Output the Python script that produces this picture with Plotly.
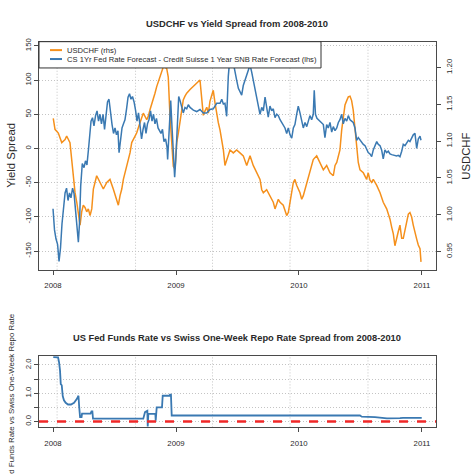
import plotly.graph_objects as go

# ---------------- data ----------------
usdchf_t = [2008.002, 2008.016, 2008.043, 2008.071, 2008.098, 2008.111, 2008.138, 2008.152, 2008.165, 2008.179,
            2008.193, 2008.206, 2008.220, 2008.233, 2008.246, 2008.260, 2008.274, 2008.287, 2008.301, 2008.315,
            2008.328, 2008.355, 2008.382, 2008.409, 2008.437, 2008.463, 2008.490, 2008.518, 2008.531, 2008.545,
            2008.559, 2008.572, 2008.599, 2008.626, 2008.640, 2008.653, 2008.680, 2008.707, 2008.734, 2008.762,
            2008.775, 2008.789, 2008.815, 2008.829, 2008.843, 2008.870, 2008.897, 2008.924, 2008.937, 2008.951,
            2008.965, 2008.978, 2008.992, 2009.006, 2009.019, 2009.033, 2009.046, 2009.059, 2009.073, 2009.087,
            2009.114, 2009.141, 2009.168, 2009.195, 2009.209, 2009.222, 2009.236, 2009.250, 2009.263, 2009.276,
            2009.290, 2009.303, 2009.317, 2009.331, 2009.344, 2009.358, 2009.372, 2009.385, 2009.398, 2009.412,
            2009.425, 2009.439, 2009.466, 2009.493, 2009.520, 2009.547, 2009.575, 2009.602, 2009.628, 2009.656,
            2009.683, 2009.697, 2009.710, 2009.737, 2009.764, 2009.791, 2009.805, 2009.832, 2009.846, 2009.872,
            2009.900, 2009.913, 2009.927, 2009.941, 2009.954, 2009.967, 2009.981, 2010.008, 2010.022, 2010.035,
            2010.063, 2010.089, 2010.116, 2010.144, 2010.171, 2010.198, 2010.225, 2010.252, 2010.279, 2010.293,
            2010.307, 2010.320, 2010.333, 2010.347, 2010.360, 2010.374, 2010.388, 2010.401, 2010.415, 2010.428,
            2010.441, 2010.455, 2010.469, 2010.482, 2010.496, 2010.523, 2010.550, 2010.563, 2010.577, 2010.591,
            2010.604, 2010.632, 2010.659, 2010.685, 2010.713, 2010.740, 2010.754, 2010.767, 2010.780, 2010.794,
            2010.807, 2010.821, 2010.835, 2010.848, 2010.862, 2010.876, 2010.889, 2010.902, 2010.916, 2010.929,
            2010.943, 2010.957, 2010.970, 2010.984, 2010.992]
usdchf_v = [1.131, 1.116, 1.111, 1.098, 1.102, 1.107, 1.098, 1.075, 1.053, 1.030,
            1.017, 0.999, 0.986, 1.004, 1.013, 1.010, 1.004, 1.008, 0.999, 1.008,
            1.035, 1.053, 1.044, 1.035, 1.044, 1.048, 1.035, 1.021, 1.013, 1.026,
            1.035, 1.048, 1.066, 1.084, 1.098, 1.102, 1.111, 1.125, 1.138, 1.129,
            1.134, 1.143, 1.156, 1.165, 1.174, 1.187, 1.201, 1.199, 1.187, 1.134,
            1.098, 1.066, 1.062, 1.098, 1.111, 1.129, 1.143, 1.156, 1.161, 1.165,
            1.170, 1.174, 1.178, 1.183, 1.158, 1.135, 1.141, 1.146, 1.138, 1.154,
            1.162, 1.169, 1.152, 1.134, 1.125, 1.115, 1.100, 1.088, 1.067, 1.075,
            1.082, 1.088, 1.084, 1.088, 1.084, 1.080, 1.067, 1.080, 1.067, 1.057,
            1.048, 1.034, 1.030, 1.034, 1.026, 1.017, 1.008, 1.021, 1.017, 1.013,
            0.999, 1.003, 1.017, 1.034, 1.044, 1.048, 1.040, 1.030, 1.021, 1.026,
            1.044, 1.061, 1.075, 1.080, 1.071, 1.061, 1.067, 1.057, 1.053, 1.067,
            1.071, 1.082, 1.088, 1.115, 1.134, 1.149, 1.155, 1.160, 1.161, 1.155,
            1.142, 1.120, 1.094, 1.071, 1.061, 1.057, 1.048, 1.057, 1.047, 1.044,
            1.048, 1.040, 1.030, 1.017, 1.008, 0.994, 0.983, 0.974, 0.958, 0.966,
            0.977, 0.986, 0.968, 0.968, 0.979, 0.994, 1.001, 1.003, 0.997, 0.986,
            0.974, 0.967, 0.959, 0.954, 0.936]

spread_t = [2008.000, 2008.004, 2008.012, 2008.024, 2008.037, 2008.049, 2008.061, 2008.073, 2008.085, 2008.098,
            2008.110, 2008.122, 2008.134, 2008.146, 2008.159, 2008.171, 2008.183, 2008.195, 2008.206, 2008.215,
            2008.225, 2008.238, 2008.252, 2008.264, 2008.276, 2008.289, 2008.297, 2008.309, 2008.321, 2008.333,
            2008.346, 2008.358, 2008.370, 2008.382, 2008.394, 2008.407, 2008.419, 2008.431, 2008.443, 2008.455,
            2008.467, 2008.480, 2008.492, 2008.504, 2008.516, 2008.528, 2008.537, 2008.549, 2008.561, 2008.573,
            2008.585, 2008.598, 2008.610, 2008.622, 2008.634, 2008.646, 2008.659, 2008.671, 2008.683, 2008.695,
            2008.707, 2008.720, 2008.732, 2008.744, 2008.756, 2008.768, 2008.780, 2008.793, 2008.805, 2008.817,
            2008.829, 2008.841, 2008.854, 2008.866, 2008.878, 2008.890, 2008.902, 2008.915, 2008.927, 2008.932,
            2008.943, 2008.951, 2008.957, 2008.965, 2008.976, 2008.984, 2008.989, 2008.998, 2009.006, 2009.014,
            2009.022, 2009.033, 2009.046, 2009.059, 2009.073, 2009.087, 2009.100, 2009.114, 2009.141, 2009.168,
            2009.195, 2009.222, 2009.250, 2009.276, 2009.303, 2009.331, 2009.358, 2009.372, 2009.385, 2009.398,
            2009.412, 2009.425, 2009.439, 2009.453, 2009.466, 2009.480, 2009.493, 2009.507, 2009.520, 2009.534,
            2009.547, 2009.561, 2009.575, 2009.588, 2009.602, 2009.615, 2009.628, 2009.642, 2009.656, 2009.669,
            2009.683, 2009.697, 2009.710, 2009.724, 2009.737, 2009.750, 2009.764, 2009.778, 2009.791, 2009.805,
            2009.819, 2009.832, 2009.846, 2009.859, 2009.872, 2009.886, 2009.900, 2009.913, 2009.927, 2009.941,
            2009.954, 2009.967, 2009.981, 2009.994, 2010.008, 2010.022, 2010.035, 2010.049, 2010.063, 2010.076,
            2010.089, 2010.103, 2010.116, 2010.124, 2010.134, 2010.146, 2010.157, 2010.171, 2010.184, 2010.198,
            2010.211, 2010.225, 2010.238, 2010.252, 2010.266, 2010.279, 2010.293, 2010.307, 2010.320, 2010.333,
            2010.347, 2010.360, 2010.374, 2010.388, 2010.401, 2010.415, 2010.428, 2010.441, 2010.455, 2010.469,
            2010.482, 2010.496, 2010.510, 2010.523, 2010.537, 2010.550, 2010.563, 2010.577, 2010.591, 2010.604,
            2010.618, 2010.632, 2010.645, 2010.659, 2010.672, 2010.685, 2010.699, 2010.713, 2010.726, 2010.740,
            2010.754, 2010.767, 2010.780, 2010.794, 2010.807, 2010.821, 2010.835, 2010.848, 2010.862, 2010.876,
            2010.889, 2010.902, 2010.916, 2010.929, 2010.943, 2010.957, 2010.970, 2010.984, 2010.992]
spread_v = [-88, -105, -119, -132, -140, -165, -145, -110, -85, -65,
            -58, -76, -65, -72, -58, -66, -90, -112, -137, -110,
            -55, -22, -28, -18, -24, 0, 18, 40, 45, 33,
            48, 55, 40, 50, 36, 50, 28, 45, 68, 72,
            50, 35, 22, 30, 20, 26, -6, 15, 30, 36,
            42, 58, 75, 80, 72, 76, 68, 56, 40, 52,
            30, 14, 28, 38, 22, 36, 42, 55, 40, 50,
            36, 44, 30, 26, 22, 28, 10, 14, 2, -16,
            22, 32, 70, 40, 5, -30, -42, -16, 22, 60,
            76, 70, 60, 52, 60, 58, 64, 60, 56, 54,
            57, 52, 52, 57, 58, 66, 66, 72, 65, 66,
            47, 105, 135, 150, 125, 110, 100, 88, 82, 78,
            92, 100, 108, 117, 122, 112, 100, 88, 78, 64,
            50, 60, 55, 75, 62, 46, 62, 55, 58, 45,
            50, 48, 42, 38, 34, 30, 22, 30, 20, 15,
            30, 35, 50, 62, 52, 40, 30, 38, 32, 40,
            48, 42, 50, 85, 50, 44, 42, 40, 38, 35,
            16, 35, 30, 38, 24, 32, 26, 30, 38, 42,
            50, 36, 44, 40, 48, 42, 40, 38, 30, 12,
            16, 12, 10, 6, 4, 0, -6, -8, -12, -2,
            4, 10, 6, 4, -2, -15, -2, -6, -4, -8,
            -9, -10, -10, -11, -10, -12, -4, 6, 4, 8,
            12, 10, 16, 20, 22, 0, 14, 18, 12]

repo_t = [2008.002, 2008.041, 2008.049, 2008.057, 2008.063, 2008.071, 2008.079, 2008.089, 2008.103, 2008.122,
          2008.146, 2008.171, 2008.193, 2008.207, 2008.213, 2008.220, 2008.232, 2008.236, 2008.305, 2008.313,
          2008.320, 2008.325, 2008.734, 2008.748, 2008.767, 2008.770, 2008.775, 2008.832, 2008.835, 2008.843,
          2008.886, 2008.892, 2008.947, 2008.951, 2008.959, 2008.965, 2010.496, 2010.510, 2010.618, 2010.659,
          2010.715, 2010.821, 2010.846, 2010.998]
repo_v = [2.28, 2.27, 2.10, 1.80, 1.32, 1.28, 0.90, 0.75, 0.66, 0.60,
          0.60, 0.66, 0.79, 0.91, 0.50, 0.15, 0.15, 0.28, 0.28, 0.36,
          0.36, 0.10, 0.10, 0.33, 0.38, -0.18, 0.27, 0.27, 0.03, 0.50,
          0.50, 0.91, 0.91, 0.95, 0.95, 0.21, 0.21, 0.17, 0.15, 0.13,
          0.11, 0.12, 0.13, 0.13]

year_ticks = [2008, 2009, 2010, 2011]
year_labels = ["2008", "2009", "2010", "2011"]
grid_years = [2008.033, 2008.671, 2009.297, 2009.927, 2010.561]
spread_ticks = [-150, -100, -50, 0, 50, 100, 150]
usdchf_ticks = [0.95, 1.00, 1.05, 1.10, 1.15, 1.20]
repo_ticks = [0, 0.5, 1.0, 1.5, 2.0]
repo_labels = ["0.0", "", "1.0", "", "2.0"]
zero_level = 0

# ---------------- styling ----------------
W = H = 474
ORANGE = "#F5901C"
BLUE = "#3A79B2"
RED = "#F02828"
FRAME = "#4a4a4a"
TXT = "#2a2a2a"
GRID = "#c4c4c4"
GRID_DASH = "1px,2px"
FONT = "Liberation Sans, Arial, sans-serif"


def px_x(p):
    return p / W


def px_y(p):
    return 1 - p / H


x_dom = [px_x(39), px_x(436)]
top_dom = [px_y(268), px_y(38)]
bot_dom = [px_y(427), px_y(355)]
x_rng = [2007.886, 2011.114]

fig = go.Figure()
fig.add_trace(go.Scatter(x=usdchf_t, y=usdchf_v, xaxis="x", yaxis="y", mode="lines",
                         line=dict(color=ORANGE, width=1.5), showlegend=False, name="USDCHF (rhs)"))
fig.add_trace(go.Scatter(x=spread_t, y=spread_v, xaxis="x", yaxis="y2", mode="lines",
                         line=dict(color=BLUE, width=1.5), showlegend=False,
                         name="CS 1Yr Fed Rate Forecast - Credit Suisse 1 Year SNB Rate Forecast (lhs)"))
fig.add_trace(go.Scatter(x=repo_t, y=repo_v, xaxis="x2", yaxis="y3", mode="lines",
                         line=dict(color=BLUE, width=1.8), showlegend=False))

tickfont = dict(family=FONT, size=7.8, color=TXT)
common_x = dict(range=x_rng, domain=x_dom, showline=True, mirror=True, linecolor=FRAME, linewidth=1,
                ticks="outside", ticklen=4, tickcolor=FRAME, tickvals=year_ticks, ticktext=year_labels,
                tickfont=tickfont, showgrid=False, zeroline=False, ticklabelstandoff=4)

fig.update_layout(
    width=W, height=H, margin=dict(l=0, r=0, t=0, b=0),
    paper_bgcolor="white", plot_bgcolor="white",
    xaxis=dict(anchor="y", **common_x),
    xaxis2=dict(anchor="y3", **common_x),
    yaxis=dict(domain=top_dom, anchor="x", side="right", range=[0.9254, 1.235],
               tickvals=usdchf_ticks, ticktext=[f"{v:.2f}" for v in usdchf_ticks],
               tickangle=-90, tickfont=tickfont, ticks="outside", ticklen=4, tickcolor=FRAME,
               showline=True, mirror=True, linecolor=FRAME, linewidth=1,
               showgrid=False, zeroline=False, ticklabelstandoff=2),
    yaxis2=dict(overlaying="y", anchor="x", side="left", range=[-177.2, 156.1],
                tickvals=spread_ticks, ticktext=[str(v) for v in spread_ticks],
                tickangle=-90, tickfont=tickfont, ticks="outside", ticklen=4, tickcolor=FRAME,
                showline=True, linecolor=FRAME, linewidth=1,
                showgrid=True, gridcolor=GRID, griddash=GRID_DASH, gridwidth=1, zeroline=False),
    yaxis3=dict(domain=bot_dom, anchor="x2", range=[-0.21, 2.316],
                tickvals=repo_ticks, ticktext=repo_labels,
                tickangle=-90, tickfont=tickfont, ticks="outside", ticklen=4, tickcolor=FRAME,
                showline=True, mirror=True, linecolor=FRAME, linewidth=1,
                showgrid=True, gridcolor=GRID, griddash=GRID_DASH, gridwidth=1, zeroline=False),
)

shapes = []
for g in grid_years:
    shapes.append(dict(type="line", xref="x", yref="y domain", x0=g, x1=g, y0=0, y1=1,
                       line=dict(color=GRID, width=1, dash=GRID_DASH), layer="below"))
    shapes.append(dict(type="line", xref="x2", yref="y3 domain", x0=g, x1=g, y0=0, y1=1,
                       line=dict(color=GRID, width=1, dash=GRID_DASH), layer="below"))
# zero reference line on the bottom panel
shapes.append(dict(type="line", xref="x2 domain", yref="y3", x0=0, x1=1, y0=zero_level, y1=zero_level,
                   line=dict(color=RED, width=2.4, dash="dash"), layer="above"))
# legend box
shapes.append(dict(type="rect", xref="paper", yref="paper", x0=px_x(39), x1=px_x(321),
                   y0=px_y(64.5), y1=px_y(38), fillcolor="white", line=dict(color="#333", width=1),
                   layer="above"))
legend_items = [("USDCHF (rhs)", ORANGE, 46.5),
                ("CS 1Yr Fed Rate Forecast - Credit Suisse 1 Year SNB Rate Forecast (lhs)", BLUE, 55.5)]
annotations = []
for label, col, yy in legend_items:
    shapes.append(dict(type="line", xref="paper", yref="paper", x0=px_x(50), x1=px_x(62),
                       y0=px_y(yy), y1=px_y(yy), line=dict(color=col, width=2), layer="above"))
    annotations.append(dict(text=label, x=px_x(65), y=px_y(yy), xref="paper", yref="paper",
                            xanchor="left", yanchor="middle", showarrow=False,
                            font=dict(family=FONT, size=7.6, color=TXT)))

annotations += [
    dict(text="<b>USDCHF vs Yield Spread from 2008-2010</b>", x=0.5, y=px_y(20), xref="paper", yref="paper",
         xanchor="center", yanchor="middle", showarrow=False, font=dict(family=FONT, size=9.4, color=TXT)),
    dict(text="<b>US Fed Funds Rate vs Swiss One-Week Repo Rate Spread from 2008-2010</b>", x=0.5,
         y=px_y(336.5), xref="paper", yref="paper", xanchor="center", yanchor="middle", showarrow=False,
         font=dict(family=FONT, size=9.3, color=TXT)),
    dict(text="Yield Spread", x=px_x(11.5), y=px_y(152.5), xref="paper", yref="paper", textangle=-90,
         xanchor="center", yanchor="middle", showarrow=False, font=dict(family=FONT, size=11.4, color=TXT)),
    dict(text="USDCHF", x=px_x(466.5), y=px_y(153.5), xref="paper", yref="paper", textangle=-90,
         xanchor="center", yanchor="middle", showarrow=False, font=dict(family=FONT, size=11.3, color=TXT)),
    dict(text="US Fed Funds Rate vs Swiss One-Week Repo Rate", x=px_x(11), y=px_y(404.5), xref="paper",
         yref="paper", textangle=-90, xanchor="center", yanchor="middle", showarrow=False,
         font=dict(family=FONT, size=7.9, color=TXT)),
]

fig.update_layout(shapes=shapes, annotations=annotations)
fig.write_html("out.html", config={"displayModeBar": False, "staticPlot": True},
               post_script="document.body.style.margin='0';document.body.style.padding='0';")
